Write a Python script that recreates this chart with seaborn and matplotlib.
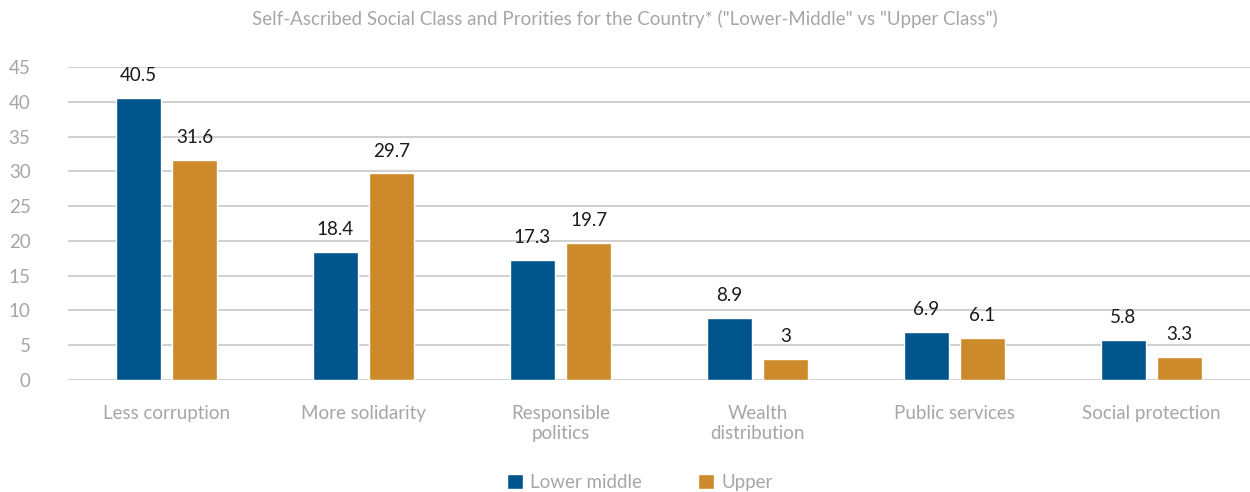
import matplotlib
matplotlib.use("Agg")
import matplotlib.pyplot as plt
import seaborn as sns
import pandas as pd

categories = ["Less corruption", "More solidarity", "Responsible\npolitics",
              "Wealth\ndistribution", "Public services", "Social protection"]
lower_middle = [40.5, 18.4, 17.3, 8.9, 6.9, 5.8]
upper = [31.6, 29.7, 19.7, 3.0, 6.1, 3.3]
series_names = ["Lower middle", "Upper"]
title = 'Self-Ascribed Social Class and Prorities for the Country* ("Lower-Middle" vs "Upper Class")'

df = pd.DataFrame({
    "cat": categories * 2,
    "val": lower_middle + upper,
    "series": [series_names[0]] * len(categories) + [series_names[1]] * len(categories),
})

sns.set_style("white")
plt.rcParams['font.family'] = ['Lato', 'DejaVu Sans']

grey = "#a6a6a6"
fig = plt.figure(figsize=(12.5, 4.92), dpi=100)
ax = fig.add_axes([0.0544, 0.2276, 0.9456, 0.6362])

sns.barplot(data=df, x="cat", y="val", hue="series", order=categories,
            hue_order=series_names, palette=["#00558C", "#CD8A2A"],
            width=0.57, gap=0.2, saturation=1, ax=ax, legend=True, zorder=3)

ax.set_ylim(0, 45)
ax.set_xlim(-0.5, 5.5)
ax.set_yticks(range(0, 46, 5))
ax.yaxis.grid(True, color="#c8c8c8", linewidth=1.2, zorder=0)
ax.set_axisbelow(True)
for s in ax.spines.values():
    s.set_visible(False)
ax.set_xlabel("")
ax.set_ylabel("")
ax.tick_params(axis="both", length=0, labelsize=13.5, colors=grey)
ax.tick_params(axis="y", pad=27)
ax.tick_params(axis="x", pad=18)

for cont in ax.containers:
    labels = [f"{v:g}" for v in cont.datavalues]
    ax.bar_label(cont, labels=labels, padding=10, fontsize=13.5, color="#1a1a1a")

fig.text(0.5, 0.962, title, ha="center", va="center", fontsize=13.5, color=grey)

handles, lbls = ax.get_legend_handles_labels()
ax.legend(handles, lbls, loc="center", bbox_to_anchor=(0.512, 0.02),
          bbox_transform=fig.transFigure, ncol=2, frameon=False, fontsize=13.5,
          labelcolor=grey, handlelength=0.85, handleheight=0.85, columnspacing=3.0,
          handletextpad=0.37)

fig.savefig("out.png", dpi=100)
